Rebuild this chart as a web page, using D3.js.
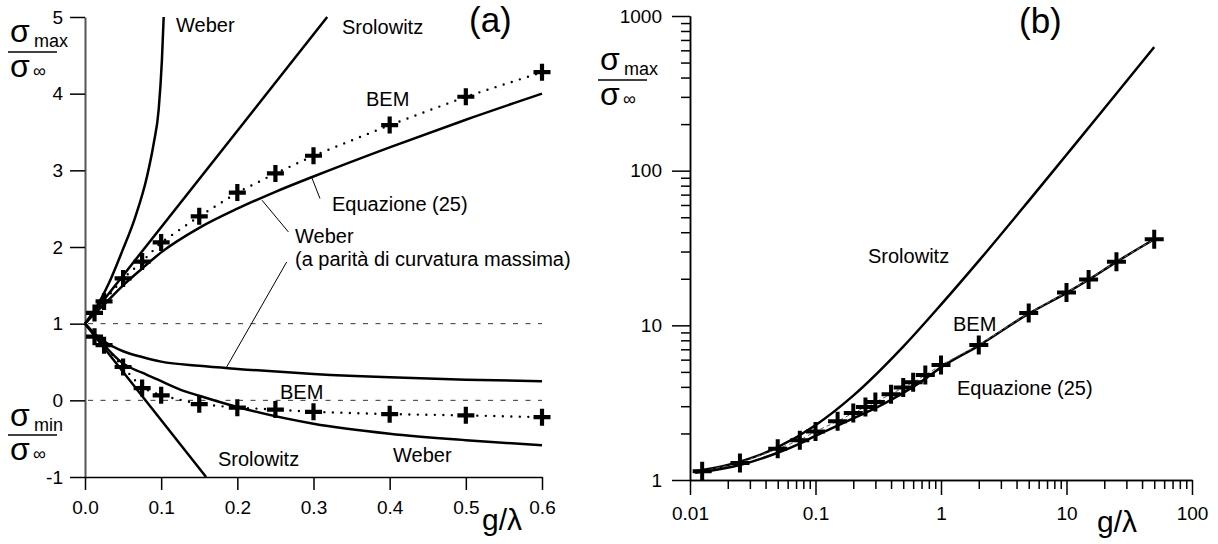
<!DOCTYPE html>
<html>
<head>
<meta charset="utf-8">
<script src="https://cdn.jsdelivr.net/npm/d3@7/dist/d3.min.js"></script>
<style>
  html, body { margin: 0; padding: 0; background: #fff; }
  svg { display: block; font-family: "Liberation Sans", Arial, sans-serif; }
  .tick text { font-family: "Liberation Sans", Arial, sans-serif; }
</style>
</head>
<body>
<svg id="chart" width="1218" height="544"></svg>
<script>
// ---------------- data ----------------
// g/lambda values of BEM computations
const bemX = [0.0125, 0.025, 0.05, 0.075, 0.1, 0.15, 0.2, 0.25, 0.3, 0.4, 0.5, 0.6, 0.75, 1, 2, 5, 10, 15, 25, 50];
const bemMax = [1.14, 1.29, 1.59, 1.81, 2.06, 2.40, 2.71, 2.96, 3.19, 3.59, 3.96, 4.28, 4.77, 5.54, 7.46, 12.0, 16.3, 19.8, 25.8, 36.0];
const bemMinX = [0.0125, 0.025, 0.05, 0.075, 0.1, 0.15, 0.2, 0.25, 0.3, 0.4, 0.5, 0.6];
const bemMin = [0.83, 0.72, 0.435, 0.16, 0.065, -0.05, -0.096, -0.12, -0.15, -0.18, -0.196, -0.22];

// Equazione (25) (coincides with Weber at equal max curvature for sigma max)
const eqX = [0, 0.011, 0.0125, 0.025, 0.05, 0.075, 0.1, 0.15, 0.2, 0.25, 0.3, 0.4, 0.5, 0.6, 0.75, 1, 2, 5, 10, 15, 25, 50];
const eqY = [1, 1.115, 1.13, 1.25, 1.5, 1.72, 1.93, 2.25, 2.5, 2.72, 2.92, 3.3, 3.66, 4.0, 4.52, 5.35, 7.4, 11.9, 16.2, 19.7, 25.7, 36.0];

// Weber (sigma max)
const weberMaxX = [0, 0.02, 0.031, 0.0486, 0.066, 0.0814, 0.0902, 0.0967, 0.101, 0.1033];
const weberMaxY = [1, 1.305, 1.52, 1.94, 2.39, 2.92, 3.35, 3.79, 4.44, 5.0];

// Weber (sigma min)
const weberMinX = [0, 0.0125, 0.025, 0.05, 0.075, 0.1, 0.125, 0.15, 0.2, 0.3, 0.4, 0.5, 0.6];
const weberMinY = [1, 0.86, 0.72, 0.48, 0.36, 0.25, 0.14, 0.06, -0.087, -0.305, -0.435, -0.52, -0.587];

// Weber (a parità di curvatura massima), sigma min
const weberEqMinX = [0, 0.0125, 0.025, 0.05, 0.075, 0.1, 0.15, 0.2, 0.3, 0.4, 0.5, 0.6];
const weberEqMinY = [1, 0.87, 0.77, 0.64, 0.565, 0.505, 0.45, 0.41, 0.345, 0.30, 0.27, 0.25];

// Srolowitz (linear panel)
const srolMaxX = [0, 0.318];
const srolMaxY = [1, 5];
const srolMinX = [0, 0.159];
const srolMinY = [1, -1];

// Srolowitz (log panel)
const srolLogX = [0.011, 0.02, 0.05, 0.1, 0.2, 0.5, 1, 2, 5, 10, 20, 50];
const srolLogY = [1.138, 1.25, 1.63, 2.26, 3.51, 7.28, 13.6, 26.1, 63.8, 126.7, 252, 629];

// reference dashed levels
const refLevels = [1, 0];

// ticks
const leftXTicks = [0, 0.1, 0.2, 0.3, 0.4, 0.5, 0.6];
const leftXLabels = ["0.0", "0.1", "0.2", "0.3", "0.4", "0.5", "0.6"];
const leftYTicks = [-1, 0, 1, 2, 3, 4, 5];
const leftYLabels = ["-1", "0", "1", "2", "3", "4", "5"];
const rightXTicks = [0.01, 0.1, 1, 10, 100];
const rightXLabels = ["0.01", "0.1", "1", "10", "100"];
const rightYTicks = [1, 10, 100, 1000];
const rightYLabels = ["1", "10", "100", "1000"];

// ---------------- drawing ----------------
const svg = d3.select("#chart");
const FONT = "'Liberation Sans', Arial, sans-serif";
const TICK_FS = 19;
const ANN_FS = 20;

const xL = d3.scaleLinear().domain([0, 0.6]).range([85, 542]);
const yL = d3.scaleLinear().domain([-1, 5]).range([477, 17]);
const xR = d3.scaleLog().domain([0.01, 100]).range([690, 1192]);
const yR = d3.scaleLog().domain([1, 1000]).range([480, 16]);

const zip = (xs, ys) => xs.map((x, i) => [x, ys[i]]);

function styleAxis(g, fs) {
  g.selectAll("path.domain").attr("stroke", "#000").attr("stroke-width", 1.5);
  g.selectAll(".tick line").attr("stroke", "#000").attr("stroke-width", 1.5);
  g.selectAll(".tick text").attr("fill", "#000").style("font-size", fs + "px").style("font-family", FONT);
}

// ---- Left panel axes ----
const gLY = svg.append("g").attr("transform", `translate(${xL(0)},0)`)
  .call(d3.axisLeft(yL).tickValues(leftYTicks).tickSize(15).tickSizeOuter(0).tickPadding(7)
    .tickFormat((d, i) => leftYLabels[i]));
styleAxis(gLY, TICK_FS);
gLY.select("path.domain").attr("stroke", "#555").attr("stroke-width", 2);

const gLX = svg.append("g").attr("transform", `translate(0,${yL(-1)})`)
  .call(d3.axisBottom(xL).tickValues(leftXTicks).tickSize(13).tickSizeOuter(0).tickPadding(11)
    .tickFormat((d, i) => leftXLabels[i]));
styleAxis(gLX, TICK_FS);

// dashed reference lines
svg.append("g").selectAll("line").data(refLevels).join("line")
  .attr("x1", xL(0) + 3).attr("x2", xL(0.6))
  .attr("y1", d => yL(d)).attr("y2", d => yL(d))
  .attr("stroke", "#333").attr("stroke-width", 1).attr("stroke-dasharray", "5,7.5");

const lineL = d3.line().x(d => xL(d[0])).y(d => yL(d[1])).curve(d3.curveMonotoneX);
const lineLstraight = d3.line().x(d => xL(d[0])).y(d => yL(d[1]));

function solid(g, d, gen) {
  g.append("path").attr("d", gen(d)).attr("fill", "none").attr("stroke", "#000")
    .attr("stroke-width", 2.5).attr("stroke-linejoin", "round");
}
const gL = svg.append("g");
solid(gL, zip(weberMaxX, weberMaxY), lineL);
solid(gL, zip(srolMaxX, srolMaxY), lineLstraight);
solid(gL, zip(srolMinX, srolMinY), lineLstraight);
solid(gL, zip(eqX, eqY).filter(d => d[0] <= 0.6), lineL);
solid(gL, zip(weberMinX, weberMinY), lineL);
solid(gL, zip(weberEqMinX, weberEqMinY), lineL);

// BEM dotted lines (left)
[zip(bemX, bemMax).filter(d => d[0] <= 0.6), zip(bemMinX, bemMin)].forEach(d => {
  gL.append("path").attr("d", lineLstraight(d)).attr("fill", "none").attr("stroke", "#000")
    .attr("stroke-width", 2.4).attr("stroke-linecap", "round").attr("stroke-dasharray", "0,8.5");
});

function crosses(g, pts, xs, ys, h, w) {
  g.append("g").selectAll("path").data(pts).join("path")
    .attr("transform", d => `translate(${xs(d[0])},${ys(d[1])})`)
    .attr("d", `M${-h},0H${h}M0,${-h}V${h}`)
    .attr("stroke", "#000").attr("stroke-width", w).attr("fill", "none");
}
crosses(gL, zip(bemX, bemMax).filter(d => d[0] <= 0.6), xL, yL, 8.5, 4.2);
crosses(gL, zip(bemMinX, bemMin), xL, yL, 8.5, 4.2);

// leader lines (left) in data units
const leaders = [
  [[0.298, 2.90], [0.3085, 2.633]],
  [[0.2324, 2.61], [0.267, 2.197]],
  [[0.2648, 1.805], [0.186, 0.435]]
];
leaders.forEach(l => {
  gL.append("line").attr("x1", xL(l[0][0])).attr("y1", yL(l[0][1]))
    .attr("x2", xL(l[1][0])).attr("y2", yL(l[1][1]))
    .attr("stroke", "#000").attr("stroke-width", 1);
});

function label(x, y, txt, fs) {
  svg.append("text").attr("x", x).attr("y", y).text(txt)
    .style("font-size", fs + "px").style("font-family", FONT).attr("fill", "#000");
}
label(176, 32, "Weber", ANN_FS);
label(342, 34, "Srolowitz", ANN_FS);
label(366, 106, "BEM", ANN_FS);
label(332, 211, "Equazione (25)", ANN_FS);
label(295, 243, "Weber", ANN_FS);
label(295, 266, "(a parità di curvatura massima)", ANN_FS);
label(280, 399, "BEM", ANN_FS);
label(218, 466, "Srolowitz", ANN_FS);
label(393, 462, "Weber", ANN_FS);
label(469, 32, "(a)", 35);
label(482, 530, "g/λ", 30);

// fraction labels
function frac(x, yTop, sub, lineY, yBot, lw) {
  label(x, yTop, "σ", 32);
  label(x + 24, yTop + 5, sub, 18);
  svg.append("line").attr("x1", x - 2).attr("x2", x - 2 + lw).attr("y1", lineY).attr("y2", lineY)
    .attr("stroke", "#000").attr("stroke-width", 1.5);
  label(x, yBot, "σ", 32);
  label(x + 23, yBot, "∞", 18);
}
frac(10, 42, "max", 52, 77, 49);
frac(10, 426, "min", 435, 460, 49);
frac(600, 70, "max", 80, 105, 49);

// ---- Right panel ----
const minorY = [];
[1, 10, 100].forEach(b => { for (let k = 2; k <= 9; k++) minorY.push(b * k); });
const minorX = [];
[0.01, 0.1, 1, 10].forEach(b => { for (let k = 2; k <= 9; k++) minorX.push(b * k); });

const gRYm = svg.append("g").attr("transform", `translate(${xR(0.01)},0)`)
  .call(d3.axisLeft(yR).tickValues(minorY).tickSize(9).tickSizeOuter(0).tickFormat(""));
styleAxis(gRYm, TICK_FS);
const gRY = svg.append("g").attr("transform", `translate(${xR(0.01)},0)`)
  .call(d3.axisLeft(yR).tickValues(rightYTicks).tickSize(18).tickSizeOuter(0).tickPadding(10)
    .tickFormat((d, i) => rightYLabels[i]));
styleAxis(gRY, TICK_FS);

const gRXm = svg.append("g").attr("transform", `translate(0,${yR(1)})`)
  .call(d3.axisBottom(xR).tickValues(minorX).tickSize(9).tickSizeOuter(0).tickFormat(""));
styleAxis(gRXm, TICK_FS);
const gRX = svg.append("g").attr("transform", `translate(0,${yR(1)})`)
  .call(d3.axisBottom(xR).tickValues(rightXTicks).tickSize(15).tickSizeOuter(0).tickPadding(12)
    .tickFormat((d, i) => rightXLabels[i]));
styleAxis(gRX, TICK_FS);

const lineR = d3.line().x(d => xR(d[0])).y(d => yR(d[1])).curve(d3.curveMonotoneX);
const lineRstraight = d3.line().x(d => xR(d[0])).y(d => yR(d[1]));
const gR = svg.append("g");
solid(gR, zip(srolLogX, srolLogY), lineR);
solid(gR, zip(eqX, eqY).filter(d => d[0] > 0), lineR);
gR.append("path").attr("d", lineRstraight(zip(bemX, bemMax))).attr("fill", "none")
  .attr("stroke", "#666").attr("stroke-width", 1).attr("stroke-dasharray", "4,3");
crosses(gR, zip(bemX, bemMax), xR, yR, 9.5, 4);

label(868, 263, "Srolowitz", ANN_FS);
label(953, 331, "BEM", ANN_FS);
label(957, 395, "Equazione (25)", ANN_FS);
label(1019, 33, "(b)", 35);
label(1097, 532, "g/λ", 30);
</script>
</body>
</html>
